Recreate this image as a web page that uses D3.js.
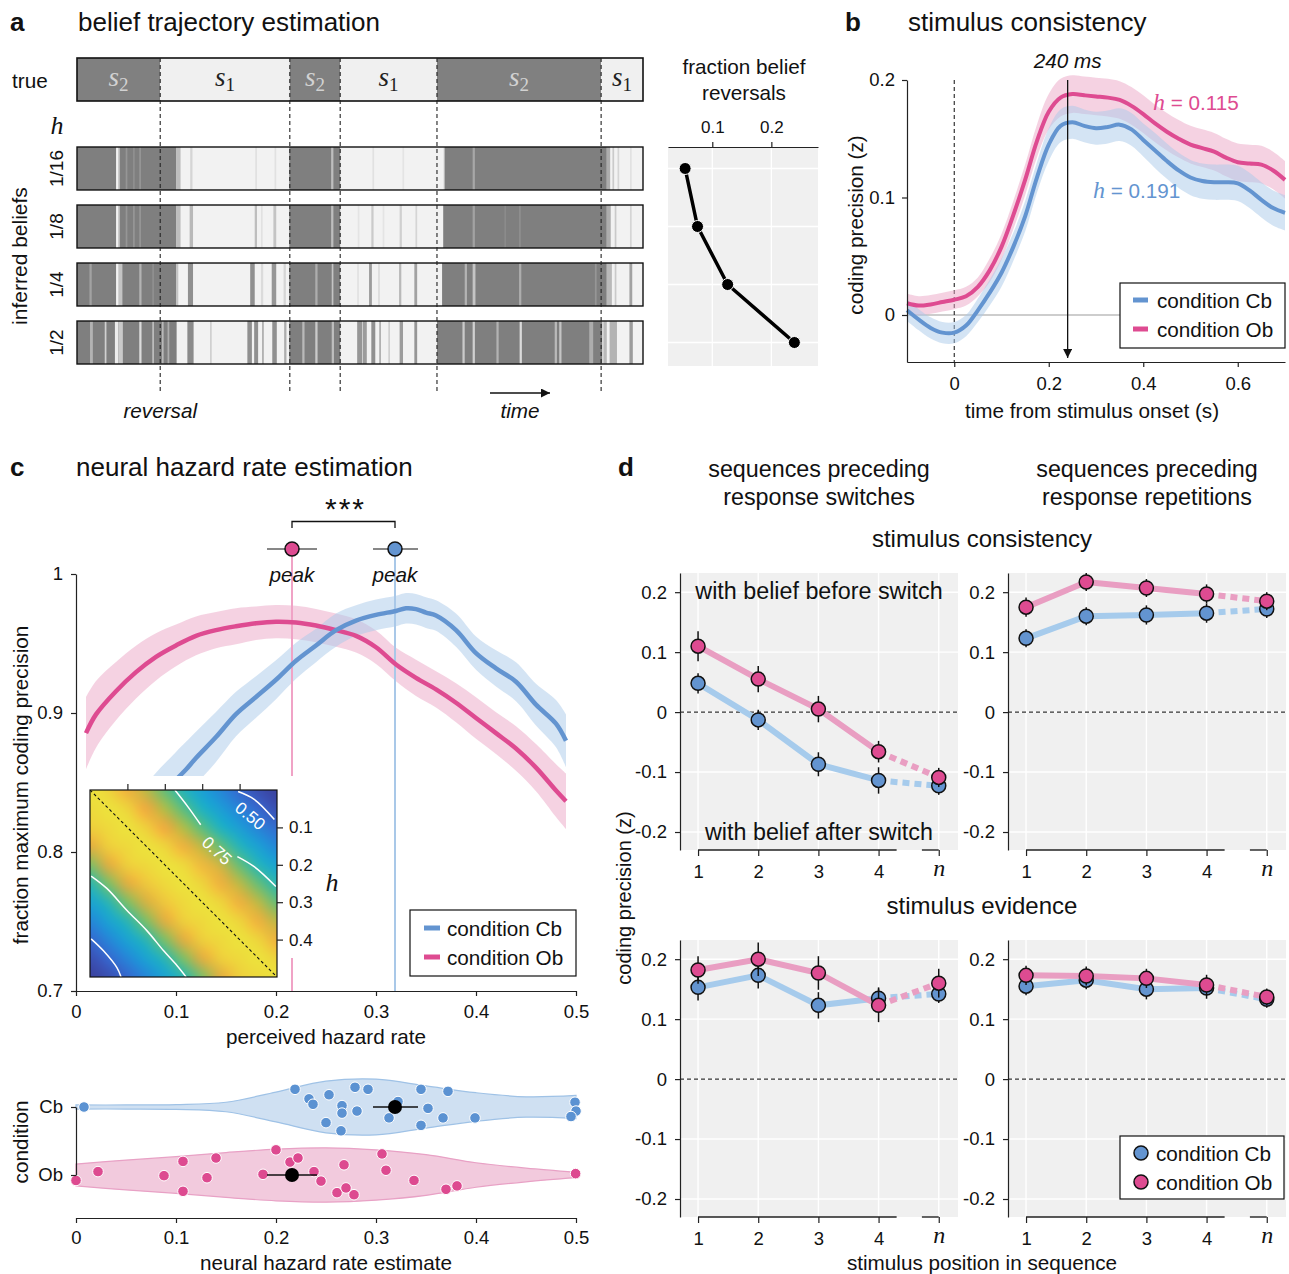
<!DOCTYPE html>
<html><head><meta charset="utf-8">
<script src="https://cdn.jsdelivr.net/npm/d3@7/dist/d3.min.js"></script>
<style>
body{margin:0;background:#fff;}
svg{display:block;font-family:"Liberation Sans",Arial,Helvetica,sans-serif;}
</style></head><body>
<script>
// ================= DATA =================
// panel a
const trueStates = [[0,14.7,'2'],[14.7,37.6,'1'],[37.6,46.5,'2'],[46.5,63.6,'1'],[63.6,92.6,'2'],[92.6,100,'1']];
const reversalTimes = [14.7,37.6,46.5,63.6,92.6];
const hazardRows = ['1/16','1/8','1/4','1/2'];
const belief_1_16 = [[0,6.9,1],[7.3,7.6,0.5],[7.6,17.5,1],[8.6,8.9,0.8],[9.9,10.2,0.85],[11.0,11.3,0.8],[17.5,18.3,0.45],
 [20.0,20.4,0.25],[31.5,31.8,0.15],[34.9,35.2,0.15],[37.5,46.5,1],[44.9,45.3,0.45],[52.2,52.5,0.15],[57.5,57.8,0.12],
 [64.8,65.0,0.5],[65.0,93.6,1],[69.9,70.3,0.65],[93.6,94.2,0.6],[94.6,94.9,0.35],[95.5,95.8,0.25],[97.7,98.0,0.15]];
const belief_1_8 = [[0,6.9,1],[7.3,7.6,0.5],[7.6,17.5,1],[8.6,8.9,0.8],[9.9,10.2,0.8],[11.0,11.3,0.8],[17.5,18.3,0.45],
 [19.9,20.5,0.5],[31.4,31.8,0.45],[32.5,32.8,0.15],[34.7,35.2,0.4],[37.5,46.5,1],[44.9,45.3,0.45],
 [49.6,49.9,0.12],[52.0,52.4,0.35],[54.0,54.3,0.12],[57.0,57.4,0.3],[59.8,60.1,0.25],
 [64.7,93.6,1],[69.9,70.3,0.7],[75.5,75.8,0.9],[78.1,78.4,0.85],[93.6,94.3,0.6],[95.0,95.3,0.35],[97.7,98.0,0.25]];
const belief_1_4 = [[0,6.9,1],[2.2,2.6,0.7],[7.3,8.0,0.4],[8.0,17.5,1],[11.0,11.4,0.55],[13.3,13.6,0.85],[17.5,17.9,0.4],
 [19.6,20.5,0.85],[30.6,31.4,0.85],[32.5,32.9,0.2],[34.4,35.2,0.8],[36.5,36.9,0.25],[37.5,46.5,1],[42.1,42.5,0.6],[45.0,45.3,0.4],
 [49.5,49.8,0.15],[51.6,52.1,0.75],[53.2,53.5,0.2],[56.9,57.3,0.5],[59.6,60.1,0.7],
 [64.5,93.6,1],[68.5,68.9,0.55],[69.9,70.4,0.4],[78.1,78.5,0.6],[91.5,91.8,0.8],[93.6,94.5,0.5],[95.0,95.3,0.35],[97.6,98.1,0.7]];
const belief_1_2 = [[0,17.6,1],[2.3,2.8,0.55],[4.9,5.2,0.3],[6.7,7.3,0.05],[7.3,8.1,0.35],[11.0,11.4,0.2],[13.3,13.6,0.45],[15.0,15.3,0.5],[16.0,16.3,0.6],
 [19.5,20.6,0.9],[23.5,23.8,0.3],[30.1,30.9,0.85],[31.3,32.0,0.85],[32.7,33.0,0.6],[34.5,35.3,0.85],[36.6,37.0,0.6],
 [37.5,46.5,1],[39.8,40.2,0.5],[42.1,42.5,0.35],[45.0,45.4,0.45],
 [49.5,50.4,0.8],[50.5,51.2,0.75],[52.0,52.7,0.85],[53.4,53.7,0.6],[55.0,55.3,0.3],[57.0,57.6,0.75],[59.6,60.1,0.8],
 [63.6,92.8,1],[68.1,68.5,0.35],[69.9,70.3,0.3],[74.1,74.5,0.55],[78.2,78.6,0.2],[84.4,84.8,0.5],[85.2,85.6,0.4],[90.5,91.2,0.6],
 [93.0,93.6,0.5],[94.1,95.4,0.55],[97.6,98.2,0.75]];
const beliefRows = [belief_1_16, belief_1_8, belief_1_4, belief_1_2];
const reversalFraction = [0.054,0.075,0.126,0.239];
const reversalTicks = [0.1,0.2];

// panel b
const timeB = [-0.1,-0.075,-0.05,-0.025,0,0.025,0.05,0.075,0.1,0.125,0.15,0.175,0.2,0.225,0.25,0.275,0.3,0.325,0.35,0.375,0.4,0.425,0.45,0.475,0.5,0.525,0.55,0.575,0.6,0.625,0.65,0.675,0.7];
const cbB = [0.004,-0.004,-0.011,-0.015,-0.015,-0.009,0.004,0.019,0.036,0.058,0.084,0.117,0.145,0.161,0.164,0.161,0.159,0.160,0.162,0.158,0.149,0.140,0.131,0.123,0.117,0.114,0.113,0.113,0.112,0.106,0.098,0.091,0.087];
const cbBse = [0.009,0.009,0.009,0.009,0.009,0.009,0.010,0.011,0.012,0.012,0.013,0.013,0.014,0.014,0.014,0.014,0.014,0.014,0.014,0.014,0.014,0.015,0.015,0.015,0.015,0.015,0.015,0.015,0.015,0.015,0.015,0.015,0.015];
const obB = [0.010,0.008,0.009,0.011,0.013,0.016,0.024,0.038,0.058,0.085,0.115,0.148,0.173,0.185,0.188,0.187,0.186,0.185,0.183,0.178,0.171,0.163,0.156,0.150,0.145,0.142,0.139,0.134,0.130,0.129,0.128,0.123,0.115];
const obBse = [0.008,0.008,0.008,0.008,0.008,0.008,0.008,0.010,0.011,0.012,0.013,0.014,0.015,0.016,0.016,0.016,0.016,0.016,0.016,0.016,0.016,0.016,0.016,0.016,0.016,0.016,0.016,0.016,0.016,0.016,0.016,0.016,0.016];
const peakTimeB = 0.24;
const hEstOb = '0.115', hEstCb = '0.191';

// panel c
const hOb = [0.01,0.02,0.04,0.06,0.08,0.10,0.12,0.14,0.16,0.18,0.20,0.22,0.24,0.26,0.28,0.30,0.32,0.34,0.36,0.38,0.40,0.42,0.44,0.46,0.48,0.49];
const obC = [0.8855,0.899,0.9157,0.9294,0.9404,0.9486,0.9555,0.9596,0.9624,0.9646,0.9657,0.9651,0.9629,0.9596,0.9555,0.9473,0.9349,0.9253,0.917,0.9074,0.8964,0.8855,0.8745,0.8607,0.8442,0.8365];
const obCse = [0.026,0.024,0.021,0.019,0.017,0.015,0.014,0.013,0.013,0.012,0.012,0.012,0.012,0.012,0.012,0.012,0.012,0.013,0.013,0.014,0.015,0.015,0.016,0.017,0.019,0.020];
const hCb = [0.06,0.08,0.10,0.11,0.12,0.14,0.16,0.18,0.20,0.22,0.24,0.26,0.28,0.30,0.32,0.33,0.34,0.35,0.36,0.38,0.40,0.42,0.44,0.46,0.48,0.49];
const cbC = [0.818,0.836,0.852,0.8593,0.8676,0.8827,0.8992,0.9115,0.9239,0.9376,0.9486,0.9596,0.9665,0.9706,0.9734,0.9753,0.9747,0.9722,0.9701,0.9596,0.9431,0.9321,0.9225,0.906,0.8923,0.88];
const cbCse = [0.022,0.021,0.020,0.020,0.019,0.018,0.016,0.015,0.014,0.013,0.012,0.012,0.011,0.011,0.011,0.011,0.011,0.011,0.011,0.012,0.012,0.013,0.014,0.015,0.017,0.019];
const peakOb = [0.216,0.191,0.241];
const peakCb = [0.319,0.297,0.342];
const heat = [
 [1.00,0.97,0.92,0.87,0.80,0.72,0.64,0.57,0.50,0.45,0.42],
 [0.98,1.00,0.97,0.91,0.86,0.79,0.71,0.63,0.56,0.50,0.45],
 [0.96,0.98,1.00,0.96,0.91,0.86,0.79,0.71,0.63,0.56,0.51],
 [0.90,0.96,0.98,1.00,0.97,0.92,0.87,0.80,0.72,0.64,0.57],
 [0.82,0.90,0.96,0.98,1.00,0.98,0.93,0.88,0.80,0.72,0.65],
 [0.73,0.82,0.90,0.95,0.98,1.00,0.97,0.92,0.87,0.80,0.73],
 [0.65,0.73,0.82,0.89,0.95,0.98,1.00,0.97,0.92,0.87,0.80],
 [0.57,0.65,0.73,0.82,0.90,0.96,0.98,1.00,0.97,0.92,0.87],
 [0.50,0.57,0.65,0.73,0.82,0.90,0.96,0.98,1.00,0.97,0.92],
 [0.45,0.50,0.57,0.65,0.73,0.82,0.90,0.96,0.98,1.00,0.97],
 [0.42,0.45,0.50,0.57,0.65,0.73,0.82,0.90,0.96,0.98,1.00]];
const heatStep = 0.05;
const contour75upA = [[0.227,0.0],[0.262,0.045],[0.296,0.093]];
const contour75upB = [[0.394,0.178],[0.439,0.205],[0.497,0.258]];
const contour50up = [[0.396,0.004],[0.439,0.025],[0.493,0.079]];
const contour75low = [[0.003,0.23],[0.045,0.263],[0.099,0.322],[0.152,0.376],[0.197,0.43],[0.233,0.47],[0.257,0.5]];
const contour50low = [[0.003,0.398],[0.036,0.43],[0.072,0.475],[0.083,0.5]];
const insetTicks = [0.1,0.2,0.3,0.4];

// violin
const violinGrid = [0,0.05,0.1,0.15,0.2,0.25,0.3,0.35,0.4,0.45,0.5];
const cbViolin = [0.03,0.03,0.035,0.07,0.22,0.38,0.41,0.31,0.21,0.15,0.17];
const obViolin = [0.16,0.22,0.27,0.33,0.38,0.40,0.37,0.30,0.18,0.10,0.04];
const cbPoints = [[0.008,0],[0.219,-0.26],[0.279,-0.29],[0.292,-0.26],[0.345,-0.26],[0.372,-0.23],[0.233,-0.12],[0.237,-0.04],
 [0.253,-0.18],[0.266,-0.02],[0.266,0.09],[0.281,0.06],[0.322,-0.08],[0.352,0.02],[0.313,0.16],[0.367,0.16],[0.399,0.16],
 [0.250,0.23],[0.265,0.35],[0.345,0.27],[0.499,-0.07],[0.5,0.06],[0.495,0.14]];
const obPoints = [[0.0,0.08],[0.022,-0.05],[0.088,0.01],[0.107,-0.20],[0.107,0.24],[0.131,0.04],[0.140,-0.25],[0.187,-0.01],
 [0.2,-0.37],[0.214,-0.19],[0.222,-0.25],[0.238,-0.05],[0.245,0.09],[0.268,-0.15],[0.261,0.26],[0.270,0.19],[0.278,0.29],
 [0.306,-0.31],[0.310,-0.07],[0.338,0.08],[0.370,0.21],[0.381,0.16],[0.4996,-0.02]];
const conditions = ['Cb','Ob'];

// panel d
const positions = ['1','2','3','4','n'];
const swConsCb = [0.048,-0.013,-0.087,-0.114,-0.123], swConsCbSe = [0.017,0.017,0.020,0.022,0.015];
const swConsOb = [0.110,0.055,0.005,-0.066,-0.109], swConsObSe = [0.025,0.022,0.022,0.018,0.016];
const repConsCb = [0.123,0.160,0.162,0.165,0.172], repConsCbSe = [0.015,0.015,0.016,0.016,0.015];
const repConsOb = [0.175,0.217,0.207,0.197,0.185], repConsObSe = [0.016,0.015,0.015,0.016,0.015];
const swEvCb = [0.153,0.173,0.123,0.135,0.142], swEvCbSe = [0.022,0.022,0.022,0.018,0.015];
const swEvOb = [0.182,0.200,0.177,0.123,0.160], swEvObSe = [0.023,0.028,0.028,0.028,0.024];
const repEvCb = [0.155,0.165,0.150,0.152,0.133], repEvCbSe = [0.015,0.015,0.017,0.018,0.014];
const repEvOb = [0.173,0.172,0.168,0.157,0.137], repEvObSe = [0.016,0.016,0.016,0.017,0.014];
const dTicksY = [-0.2,-0.1,0,0.1,0.2];

// ================= STYLE =================
const FS = 20.7, TS = 18.5, TITLE = 26;
const BLUE = '#6394d0', PINK = '#de4b91';
const BLUE_L = '#a6cbec', PINK_L = '#e99ec2';
const BLUE_BAND = '#a9c9ea', PINK_BAND = '#eba5c6';
const SERIF = '"Liberation Serif","DejaVu Serif",serif';
const INK = '#111';

const svg = d3.select('body').append('svg').attr('width',1289).attr('height',1274);
const defs = svg.append('defs');
defs.append('marker').attr('id','arr').attr('viewBox','0 0 10 10').attr('refX',10).attr('refY',5)
  .attr('markerWidth',11).attr('markerHeight',9).attr('markerUnits','userSpaceOnUse').attr('orient','auto')
  .append('path').attr('d','M0,0 L10,5 L0,10 z').attr('fill',INK);

function txt(g,x,y,s,o={}){
  const t=g.append('text').attr('x',x).attr('y',y).attr('dominant-baseline','central')
    .attr('font-size',o.size||FS).attr('text-anchor',o.anchor||'start').attr('fill',o.fill||INK).text(s);
  if(o.weight) t.attr('font-weight',o.weight);
  if(o.italic) t.attr('font-style','italic');
  if(o.serif) t.attr('font-family',SERIF).attr('font-style','italic');
  if(o.rotate!==undefined) t.attr('transform',`rotate(${o.rotate},${x},${y})`);
  return t;
}
function styleAxis(g,size){
  g.attr('font-family',null).attr('font-size',null);
  g.selectAll('text').attr('font-size',size||TS).attr('fill',INK);
  g.selectAll('line').attr('stroke','#222').attr('stroke-width',1.2);
  g.selectAll('path.domain').attr('stroke','#222').attr('stroke-width',1.2);
}

// ================= PANEL A =================
const gA = svg.append('g');
txt(gA,10,22,'a',{size:TITLE,weight:'bold'});
txt(gA,78,22,'belief trajectory estimation',{size:TITLE});
const tA = d3.scaleLinear([0,100],[77,643]);
const rowY = d3.scaleBand(hazardRows,[147,364]).paddingInner(0.259);
const grey = d3.scaleLinear([0,1],['#f2f2f2','#7f7f7f']);
const trueTop = 58, trueH = 43;
trueStates.forEach(([a,b,s])=>{
  gA.append('rect').attr('x',tA(a)).attr('y',trueTop).attr('width',tA(b)-tA(a)).attr('height',trueH)
    .attr('fill',s==='2'?'#808080':'#f0f0f0');
  const t=gA.append('text').attr('x',(tA(a)+tA(b))/2).attr('y',trueTop+trueH/2-3).attr('text-anchor','middle')
    .attr('dominant-baseline','central').attr('font-family',SERIF).attr('font-size',27).attr('fill',s==='2'?'#d2d2d2':'#222');
  t.append('tspan').attr('font-style','italic').text('s');
  t.append('tspan').attr('font-size',19).attr('dy',7).text(s);
});
gA.append('rect').attr('x',tA(0)).attr('y',trueTop).attr('width',tA(100)-tA(0)).attr('height',trueH)
  .attr('fill','none').attr('stroke','#111').attr('stroke-width',1.6);
txt(gA,12,80,'true',{size:FS});
txt(gA,57,125,'h',{serif:true,size:26,anchor:'middle'});
hazardRows.forEach((h,i)=>{
  const y=rowY(h), bw=rowY.bandwidth();
  gA.append('rect').attr('x',tA(0)).attr('y',y).attr('width',tA(100)-tA(0)).attr('height',bw).attr('fill',grey(0));
  gA.selectAll(null).data(beliefRows[i]).join('rect')
    .attr('x',d=>tA(d[0])).attr('y',y).attr('width',d=>tA(d[1])-tA(d[0])).attr('height',bw).attr('fill',d=>grey(d[2]));
  gA.append('rect').attr('x',tA(0)).attr('y',y).attr('width',tA(100)-tA(0)).attr('height',bw)
    .attr('fill','none').attr('stroke','#111').attr('stroke-width',1.4);
  txt(gA,57,y+bw/2,h,{size:19,anchor:'middle',rotate:-90});
});
gA.selectAll(null).data(reversalTimes).join('line')
  .attr('x1',d=>tA(d)).attr('x2',d=>tA(d)).attr('y1',trueTop).attr('y2',393)
  .attr('stroke','#222').attr('stroke-width',1.1).attr('stroke-dasharray','4,3');
txt(gA,19,256,'inferred beliefs',{size:21,anchor:'middle',rotate:-90});
txt(gA,tA(reversalTimes[0]),410,'reversal',{italic:true,anchor:'middle'});
txt(gA,520,410,'time',{italic:true,anchor:'middle'});
gA.append('line').attr('x1',490).attr('x2',550).attr('y1',393).attr('y2',393).attr('stroke',INK).attr('stroke-width',1.3).attr('marker-end','url(#arr)');

// mini chart
const xM = d3.scaleLinear([0.025,0.279],[668,818]);
const mTop=147, mBot=366;
gA.append('rect').attr('x',xM.range()[0]).attr('y',mTop).attr('width',xM.range()[1]-xM.range()[0]).attr('height',mBot-mTop).attr('fill','#f0f0f0');
gA.selectAll(null).data(reversalTicks).join('line').attr('x1',d=>xM(d)).attr('x2',d=>xM(d)).attr('y1',mTop).attr('y2',mBot).attr('stroke','#fff').attr('stroke-width',1.3);
gA.selectAll(null).data(hazardRows).join('line').attr('x1',xM.range()[0]).attr('x2',xM.range()[1])
  .attr('y1',d=>rowY(d)+rowY.bandwidth()/2).attr('y2',d=>rowY(d)+rowY.bandwidth()/2).attr('stroke','#fff').attr('stroke-width',1.3);
const axM = gA.append('g').attr('transform',`translate(0,${mTop})`).call(d3.axisTop(xM).tickValues(reversalTicks).tickSize(5).tickSizeOuter(0).tickPadding(9).tickFormat(d=>String(d)));
styleAxis(axM,17);
const lineM = d3.line().x(d=>xM(d[0])).y(d=>rowY(d[1])+rowY.bandwidth()/2);
const mData = reversalFraction.map((v,i)=>[v,hazardRows[i]]);
gA.append('path').datum(mData).attr('d',lineM).attr('fill','none').attr('stroke','#000').attr('stroke-width',3.5);
gA.selectAll(null).data(mData).join('circle').attr('cx',d=>xM(d[0])).attr('cy',d=>rowY(d[1])+rowY.bandwidth()/2).attr('r',6)
  .attr('fill','#000').attr('stroke','#fff').attr('stroke-width',1);
txt(gA,744,66,'fraction belief',{anchor:'middle'});
txt(gA,744,92,'reversals',{anchor:'middle'});

// ================= PANEL B =================
const gB = svg.append('g');
txt(gB,845,22,'b',{size:TITLE,weight:'bold'});
txt(gB,908,22,'stimulus consistency',{size:TITLE});
const xB = d3.scaleLinear([-0.1,0.7],[907,1285]);
const yB = d3.scaleLinear([-0.04,0.2],[362,80]);
gB.append('line').attr('x1',xB(-0.1)).attr('x2',xB(0.7)).attr('y1',yB(0)).attr('y2',yB(0)).attr('stroke','#bdbdbd').attr('stroke-width',1.3);
gB.append('line').attr('x1',xB(0)).attr('x2',xB(0)).attr('y1',yB(0.2)).attr('y2',yB(-0.04)).attr('stroke','#222').attr('stroke-width',1.1).attr('stroke-dasharray','4,3');
const areaB = (v,se)=>d3.area().x((d,i)=>xB(timeB[i])).y0((d,i)=>yB(v[i]-se[i])).y1((d,i)=>yB(v[i]+se[i])).curve(d3.curveCatmullRom)(v);
const lineB = v=>d3.line().x((d,i)=>xB(timeB[i])).y(d=>yB(d)).curve(d3.curveCatmullRom)(v);
gB.append('path').attr('d',areaB(obB,obBse)).attr('fill',PINK_BAND).attr('opacity',0.5);
gB.append('path').attr('d',areaB(cbB,cbBse)).attr('fill',BLUE_BAND).attr('opacity',0.5);
gB.append('path').attr('d',lineB(cbB)).attr('fill','none').attr('stroke',BLUE).attr('stroke-width',4);
gB.append('path').attr('d',lineB(obB)).attr('fill','none').attr('stroke',PINK).attr('stroke-width',4);
gB.append('line').attr('x1',xB(peakTimeB)).attr('x2',xB(peakTimeB)).attr('y1',yB(0.2)).attr('y2',358).attr('stroke',INK).attr('stroke-width',1.3).attr('marker-end','url(#arr)');
txt(gB,xB(peakTimeB),60,`${Math.round(peakTimeB*1000)} ms`,{italic:true,anchor:'middle'});
const axBx = gB.append('g').attr('transform',`translate(0,${yB(-0.04)})`).call(d3.axisBottom(xB).tickValues([0,0.2,0.4,0.6]).tickSize(5).tickSizeOuter(0).tickPadding(10).tickFormat(d=>String(d)));
styleAxis(axBx);
const axBy = gB.append('g').attr('transform',`translate(${xB(-0.1)},0)`).call(d3.axisLeft(yB).tickValues([0,0.1,0.2]).tickSize(5).tickSizeOuter(0).tickPadding(7).tickFormat(d=>String(d)));
styleAxis(axBy);
function hLabel(g,x,y,val,col){
  const t=g.append('text').attr('x',x).attr('y',y).attr('dominant-baseline','central').attr('font-size',FS).attr('fill',col);
  t.append('tspan').attr('font-family',SERIF).attr('font-style','italic').attr('font-size',24).text('h');
  t.append('tspan').text(' = '+val);
}
hLabel(gB,1153,102,hEstOb,PINK);
hLabel(gB,1093,190,hEstCb,BLUE);
txt(gB,855,225,'coding precision (z)',{anchor:'middle',rotate:-90});
txt(gB,1092,410,'time from stimulus onset (s)',{anchor:'middle'});
gB.append('rect').attr('x',1120).attr('y',283).attr('width',165).attr('height',65).attr('fill','#fff').attr('stroke',INK).attr('stroke-width',1.2);
[[BLUE,'condition Cb',300],[PINK,'condition Ob',329]].forEach(([c,l,y])=>{
  gB.append('line').attr('x1',1133).attr('x2',1148).attr('y1',y).attr('y2',y).attr('stroke',c).attr('stroke-width',5);
  txt(gB,1157,y,l);
});

// ================= PANEL C =================
const gC = svg.append('g');
txt(gC,10,467,'c',{size:TITLE,weight:'bold'});
txt(gC,76,467,'neural hazard rate estimation',{size:TITLE});
const xC = d3.scaleLinear([0,0.5],[76,576]);
const yC = d3.scaleLinear([0.7,1],[991,574]);
const areaC = (hs,v,se)=>d3.area().x((d,i)=>xC(hs[i])).y0((d,i)=>yC(v[i]-se[i])).y1((d,i)=>yC(v[i]+se[i])).curve(d3.curveCatmullRom)(v);
const lineC = (hs,v)=>d3.line().x((d,i)=>xC(hs[i])).y(d=>yC(d)).curve(d3.curveCatmullRom)(v);
gC.append('path').attr('d',areaC(hOb,obC,obCse)).attr('fill',PINK_BAND).attr('opacity',0.5);
gC.append('path').attr('d',areaC(hCb,cbC,cbCse)).attr('fill',BLUE_BAND).attr('opacity',0.5);
gC.append('line').attr('x1',xC(peakOb[0])).attr('x2',xC(peakOb[0])).attr('y1',556).attr('y2',yC(0.7)).attr('stroke','#f0a3c6').attr('stroke-width',2);
gC.append('line').attr('x1',xC(peakCb[0])).attr('x2',xC(peakCb[0])).attr('y1',556).attr('y2',yC(0.7)).attr('stroke','#a9c8e8').attr('stroke-width',2);
gC.append('path').attr('d',lineC(hOb,obC)).attr('fill','none').attr('stroke',PINK).attr('stroke-width',4.5);
gC.append('path').attr('d',lineC(hCb,cbC)).attr('fill','none').attr('stroke',BLUE).attr('stroke-width',4.5);
// peaks
const peakY = 549;
[[peakOb,PINK],[peakCb,BLUE]].forEach(([p,c])=>{
  gC.append('line').attr('x1',xC(p[1])).attr('x2',xC(p[2])).attr('y1',peakY).attr('y2',peakY).attr('stroke',INK).attr('stroke-width',1.2);
  gC.append('circle').attr('cx',xC(p[0])).attr('cy',peakY).attr('r',7).attr('fill',c).attr('stroke',INK).attr('stroke-width',1.5);
  txt(gC,xC(p[0]),574,'peak',{italic:true,anchor:'middle'});
});
gC.append('path').attr('d',`M${xC(peakOb[0])},528 V521.5 H${xC(peakCb[0])} V528`).attr('fill','none').attr('stroke',INK).attr('stroke-width',1.3);
txt(gC,(xC(peakOb[0])+xC(peakCb[0]))/2+2,508,'***',{anchor:'middle',size:30}).attr('letter-spacing',2);
// inset
const xI = d3.scaleLinear([0,0.5],[90,277]);
const yI = d3.scaleLinear([0,0.5],[790,977]);
gC.append('rect').attr('x',84).attr('y',776).attr('width',262).attr('height',182).attr('fill','#fff');
const parula = d3.scaleLinear([0.40,0.50,0.60,0.70,0.78,0.85,0.91,0.96,1.0],
  ['#3c3892','#3768d0','#1f95dc','#16b2cc','#4cbd8c','#a3c24a','#f2a93f','#efd03c','#ece33c']).clamp(true);
const n = heat.length;
const small = document.createElement('canvas'); small.width=n; small.height=n;
const sctx = small.getContext('2d'); const im = sctx.createImageData(n,n);
heat.forEach((row,r)=>row.forEach((v,c)=>{const col=d3.rgb(parula(v)); const k=(r*n+c)*4; im.data[k]=col.r; im.data[k+1]=col.g; im.data[k+2]=col.b; im.data[k+3]=255;}));
sctx.putImageData(im,0,0);
const big = document.createElement('canvas'); big.width=big.height=440;
const bctx = big.getContext('2d'); bctx.imageSmoothingEnabled=true; bctx.imageSmoothingQuality='high';
bctx.drawImage(small,0,0,440,440);
defs.append('clipPath').attr('id','insetClip').append('rect').attr('x',xI(0)).attr('y',yI(0)).attr('width',xI(0.5)-xI(0)).attr('height',yI(0.5)-yI(0));
const gI = gC.append('g').attr('clip-path','url(#insetClip)');
gI.append('image').attr('href',big.toDataURL()).attr('x',xI(-heatStep/2)).attr('y',yI(-heatStep/2))
  .attr('width',xI((n-0.5)*heatStep)-xI(-heatStep/2)).attr('height',yI((n-0.5)*heatStep)-yI(-heatStep/2)).attr('preserveAspectRatio','none');
const lineI = d3.line().x(d=>xI(d[0])).y(d=>yI(d[1])).curve(d3.curveCatmullRom);
[contour75upA,contour75upB,contour50up,contour75low,contour50low].forEach(c=>{
  gI.append('path').attr('d',lineI(c)).attr('fill','none').attr('stroke','#fff').attr('stroke-width',1.5);
});
gI.append('line').attr('x1',xI(0)).attr('y1',yI(0)).attr('x2',xI(0.5)).attr('y2',yI(0.5)).attr('stroke','#111').attr('stroke-width',1.1).attr('stroke-dasharray','3,2.5');
txt(gI,xI(0.428),yI(0.07),'0.50',{fill:'#fff',size:17,anchor:'middle',rotate:40});
txt(gI,xI(0.339),yI(0.163),'0.75',{fill:'#fff',size:17,anchor:'middle',rotate:42});
gC.append('rect').attr('x',xI(0)).attr('y',yI(0)).attr('width',xI(0.5)-xI(0)).attr('height',yI(0.5)-yI(0)).attr('fill','none').attr('stroke','#111').attr('stroke-width',1.2);
const axIt = gC.append('g').attr('transform',`translate(0,${yI(0)})`).call(d3.axisTop(xI).tickValues(insetTicks).tickSize(6).tickFormat(''));
styleAxis(axIt); axIt.select('.domain').remove();
const axIr = gC.append('g').attr('transform',`translate(${xI(0.5)},0)`).call(d3.axisRight(yI).tickValues(insetTicks).tickSize(6).tickPadding(6).tickFormat(d=>String(d)));
styleAxis(axIr,17); axIr.select('.domain').remove();
txt(gC,332,882,'h',{serif:true,size:26,anchor:'middle'});
// axes c
const axCx = gC.append('g').attr('transform',`translate(0,${yC(0.7)})`).call(d3.axisBottom(xC).tickValues([0,0.1,0.2,0.3,0.4,0.5]).tickSize(5).tickSizeOuter(0).tickPadding(9).tickFormat(d=>String(d)));
styleAxis(axCx);
const axCy = gC.append('g').attr('transform',`translate(${xC(0)},0)`).call(d3.axisLeft(yC).tickValues([0.7,0.8,0.9,1]).tickSize(5).tickSizeOuter(0).tickPadding(8).tickFormat(d=>String(d)));
styleAxis(axCy);
txt(gC,326,1036,'perceived hazard rate',{anchor:'middle'});
txt(gC,20,785,'fraction maximum coding precision',{anchor:'middle',rotate:-90});
gC.append('rect').attr('x',410).attr('y',910).attr('width',166).attr('height',66).attr('fill','#fff').attr('stroke',INK).attr('stroke-width',1.2);
[[BLUE,'condition Cb',928],[PINK,'condition Ob',957]].forEach(([c,l,y])=>{
  gC.append('line').attr('x1',424).attr('x2',440).attr('y1',y).attr('y2',y).attr('stroke',c).attr('stroke-width',5);
  txt(gC,447,y,l);
});

// violin
const gV = svg.append('g');
const yV = d3.scalePoint(conditions,[1107,1175]);
const spread = yV('Ob')-yV('Cb');
const violin = (w,cat)=>d3.area().x((d,i)=>xC(violinGrid[i])).y0(d=>yV(cat)-d*spread).y1(d=>yV(cat)+d*spread).curve(d3.curveCatmullRom)(w);
gV.append('path').attr('d',violin(cbViolin,'Cb')).attr('fill','#cfe0f2').attr('stroke','#9fc2e6').attr('stroke-width',1.2);
gV.append('path').attr('d',violin(obViolin,'Ob')).attr('fill','#f2cadd').attr('stroke','#e8a1c5').attr('stroke-width',1.2);
gV.selectAll(null).data(cbPoints).join('circle').attr('cx',d=>xC(d[0])).attr('cy',d=>yV('Cb')+d[1]*spread).attr('r',5.3)
  .attr('fill','#5b92d2').attr('stroke','#fff').attr('stroke-width',1);
gV.selectAll(null).data(obPoints).join('circle').attr('cx',d=>xC(d[0])).attr('cy',d=>yV('Ob')+d[1]*spread).attr('r',5.3)
  .attr('fill','#dd4a90').attr('stroke','#fff').attr('stroke-width',1);
[[peakCb,'Cb'],[peakOb,'Ob']].forEach(([p,c])=>{
  gV.append('line').attr('x1',xC(p[1])).attr('x2',xC(p[2])).attr('y1',yV(c)).attr('y2',yV(c)).attr('stroke',INK).attr('stroke-width',1.5);
  gV.append('circle').attr('cx',xC(p[0])).attr('cy',yV(c)).attr('r',7).attr('fill','#000');
});
const axVx = gV.append('g').attr('transform','translate(0,1218)').call(d3.axisBottom(xC).tickValues([0,0.1,0.2,0.3,0.4,0.5]).tickSize(5).tickSizeOuter(0).tickPadding(8).tickFormat(d=>String(d)));
styleAxis(axVx);
const axVy = gV.append('g').attr('transform',`translate(${xC(0)},0)`).call(d3.axisLeft(yV).tickSize(5).tickSizeOuter(0).tickPadding(8));
styleAxis(axVy);
txt(gV,326,1262,'neural hazard rate estimate',{anchor:'middle'});
txt(gV,20,1142,'condition',{anchor:'middle',rotate:-90});

// ================= PANEL D =================
const gD = svg.append('g');
txt(gD,618,467,'d',{size:TITLE,weight:'bold'});
txt(gD,819,469,'sequences preceding',{anchor:'middle',size:23.3});
txt(gD,819,497,'response switches',{anchor:'middle',size:23.3});
txt(gD,1147,469,'sequences preceding',{anchor:'middle',size:23.3});
txt(gD,1147,497,'response repetitions',{anchor:'middle',size:23.3});
txt(gD,982,538,'stimulus consistency',{anchor:'middle',size:24});
txt(gD,982,905,'stimulus evidence',{anchor:'middle',size:24});
txt(gD,624,898,'coding precision (z)',{anchor:'middle',rotate:-90,size:20});
txt(gD,982,1262,'stimulus position in sequence',{anchor:'middle'});
const panelsD = [
  {xr:[680,958], yr:[850,573], cb:swConsCb, cbSe:swConsCbSe, ob:swConsOb, obSe:swConsObSe},
  {xr:[1008,1286], yr:[850,573], cb:repConsCb, cbSe:repConsCbSe, ob:repConsOb, obSe:repConsObSe},
  {xr:[680,958], yr:[1217,940], cb:swEvCb, cbSe:swEvCbSe, ob:swEvOb, obSe:swEvObSe},
  {xr:[1008,1286], yr:[1217,940], cb:repEvCb, cbSe:repEvCbSe, ob:repEvOb, obSe:repEvObSe}];
panelsD.forEach(P=>{
  const g = gD.append('g');
  const x = d3.scaleLinear([0.7,5.32],P.xr);
  const y = d3.scaleLinear([-0.23,0.232],P.yr);
  const xi = i=>x(i+1);
  g.append('rect').attr('x',P.xr[0]).attr('y',P.yr[1]).attr('width',P.xr[1]-P.xr[0]).attr('height',P.yr[0]-P.yr[1]).attr('fill','#f0f0f0');
  g.selectAll(null).data(dTicksY).join('line').attr('x1',P.xr[0]).attr('x2',P.xr[1]).attr('y1',d=>y(d)).attr('y2',d=>y(d)).attr('stroke','#fff').attr('stroke-width',1.4);
  g.selectAll(null).data(positions).join('line').attr('x1',(d,i)=>xi(i)).attr('x2',(d,i)=>xi(i)).attr('y1',P.yr[1]).attr('y2',P.yr[0]).attr('stroke','#fff').attr('stroke-width',1.4);
  g.append('line').attr('x1',P.xr[0]).attr('x2',P.xr[1]).attr('y1',y(0)).attr('y2',y(0)).attr('stroke','#333').attr('stroke-width',1.2).attr('stroke-dasharray','4,3');
  const ln = d3.line().x(d=>xi(d[0])).y(d=>y(d[1]));
  [[P.cb,BLUE_L],[P.ob,PINK_L]].forEach(([v,c])=>{
    const pts = v.map((d,i)=>[i,d]);
    g.append('path').attr('d',ln(pts.slice(0,4))).attr('fill','none').attr('stroke',c).attr('stroke-width',6);
    g.append('path').attr('d',ln(pts.slice(3))).attr('fill','none').attr('stroke',c).attr('stroke-width',6).attr('stroke-dasharray','7,5');
  });
  [[P.cb,P.cbSe,BLUE],[P.ob,P.obSe,PINK]].forEach(([v,se,c])=>{
    g.selectAll(null).data(v).join('line').attr('x1',(d,i)=>xi(i)).attr('x2',(d,i)=>xi(i))
      .attr('y1',(d,i)=>y(d-se[i])).attr('y2',(d,i)=>y(d+se[i])).attr('stroke',INK).attr('stroke-width',1.5);
    g.selectAll(null).data(v).join('circle').attr('cx',(d,i)=>xi(i)).attr('cy',d=>y(d)).attr('r',7)
      .attr('fill',c).attr('stroke',INK).attr('stroke-width',1.5);
  });
  const ax = g.append('g').attr('transform',`translate(0,${P.yr[0]})`).call(d3.axisBottom(x).tickValues([1,2,3,4,5]).tickSize(6).tickPadding(9).tickFormat(d=>positions[d-1]));
  styleAxis(ax); ax.select('.domain').remove();
  ax.selectAll('text').filter(d=>d===5).attr('font-family',SERIF).attr('font-style','italic').attr('font-size',24).attr('dy','0.45em');
  [[1,4.3],[4.72,5]].forEach(([a,b])=>g.append('line').attr('x1',x(a)).attr('x2',x(b)).attr('y1',P.yr[0]).attr('y2',P.yr[0]).attr('stroke','#222').attr('stroke-width',1.4));
  const ay = g.append('g').attr('transform',`translate(${P.xr[0]},0)`).call(d3.axisLeft(y).tickValues(dTicksY).tickSize(5).tickSizeOuter(0).tickPadding(8).tickFormat(d=>String(d)));
  styleAxis(ay);
});
txt(gD,819,591,'with belief before switch',{anchor:'middle',size:23.3});
txt(gD,819,832,'with belief after switch',{anchor:'middle',size:23.3});
gD.append('rect').attr('x',1120).attr('y',1136).attr('width',164).attr('height',63).attr('fill','#fff').attr('stroke',INK).attr('stroke-width',1.2);
[[BLUE,'condition Cb',1153],[PINK,'condition Ob',1182]].forEach(([c,l,y])=>{
  gD.append('circle').attr('cx',1141).attr('cy',y).attr('r',7).attr('fill',c).attr('stroke',INK).attr('stroke-width',1.5);
  txt(gD,1156,y,l);
});
</script>
</body></html>
